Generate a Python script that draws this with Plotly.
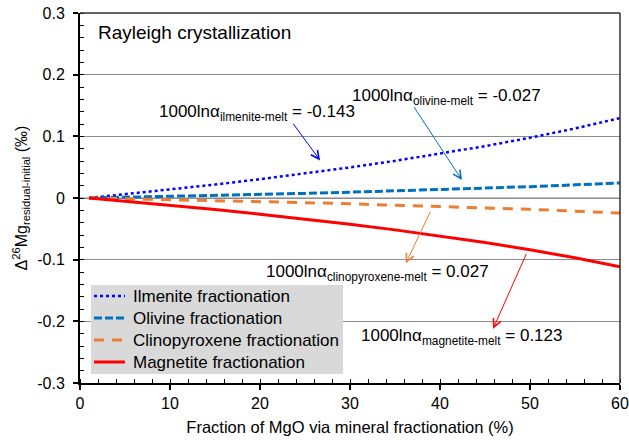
import plotly.graph_objects as go

# Fraction of MgO removed by mineral fractionation (%)
frac_mgo = [1, 5, 10, 15, 20, 25, 30, 35, 40, 45, 50, 55, 60]

# Δ26Mg(residual - initial) in per mil for each fractionating mineral
ilmenite = [0, 0.0059, 0.0136, 0.0218, 0.0305, 0.0397, 0.0496, 0.0602, 0.0716, 0.0841, 0.0977, 0.1128, 0.1296]
olivine = [0, 0.0011, 0.0026, 0.0041, 0.0058, 0.0075, 0.0094, 0.0114, 0.0135, 0.0159, 0.0184, 0.0213, 0.0245]
clinopyroxene = [0, -0.0011, -0.0026, -0.0041, -0.0058, -0.0075, -0.0094, -0.0114, -0.0135, -0.0159, -0.0184, -0.0213, -0.0245]
magnetite = [0, -0.0051, -0.0117, -0.0187, -0.0262, -0.0341, -0.0426, -0.0517, -0.0616, -0.0723, -0.0840, -0.0970, -0.1115]

series_names = ["Ilmenite fractionation", "Olivine fractionation",
                "Clinopyroxene fractionation", "Magnetite fractionation"]

x_ticks = [0, 10, 20, 30, 40, 50, 60]
y_ticks = [-0.3, -0.2, -0.1, 0, 0.1, 0.2, 0.3]
y_tick_labels = ["-0.3", "-0.2", "-0.1", "0", "0.1", "0.2", "0.3"]

FONT = "Liberation Sans, Arial, sans-serif"

styles = [
    dict(color="#0000FF", width=2.5, dash="dot"),
    dict(color="#0070C0", width=3, dash="8px,3px"),
    dict(color="#ED7D31", width=3, dash="10px,8px"),
    dict(color="#FF0000", width=3),
]

fig = go.Figure()
for name, ys, st in zip(series_names, [ilmenite, olivine, clinopyroxene, magnetite], styles):
    fig.add_trace(go.Scatter(x=frac_mgo, y=ys, mode="lines", name=name, line=st, showlegend=False))

# zero reference line
fig.add_shape(type="line", xref="x", yref="y", x0=0, x1=60, y0=0, y1=0,
              line=dict(color="#C0C0C0", width=2), layer="below")
# top and right frame
fig.add_shape(type="line", xref="paper", yref="paper", x0=0, x1=1, y0=1, y1=1,
              line=dict(color="#303030", width=1.5))
fig.add_shape(type="line", xref="paper", yref="paper", x0=1, x1=1, y0=0, y1=1,
              line=dict(color="#303030", width=1.5))

# legend box (paper coordinates of the plot area: 540 x 370 px)
PW, PH = 540.0, 370.0
def px_x(p):
    return (p - 80) / PW
def px_y(p):
    return (383 - p) / PH

fig.add_shape(type="rect", xref="paper", yref="paper",
              x0=px_x(91), x1=px_x(343), y0=px_y(374), y1=px_y(285),
              fillcolor="#D9D9D9", line=dict(width=0), layer="above")
for i, (name, st) in enumerate(zip(series_names, styles)):
    yc = 296 + 22 * i
    fig.add_shape(type="line", xref="paper", yref="paper",
                  x0=px_x(94), x1=px_x(125), y0=px_y(yc), y1=px_y(yc), line=st, layer="above")
    fig.add_annotation(x=px_x(131), y=px_y(yc), xref="paper", yref="paper", text=name,
                       showarrow=False, xanchor="left", yanchor="middle",
                       font=dict(family=FONT, size=17, color="black"))

# fractionation factor labels with arrows pointing at their curves
labels = [
    dict(text="1000lnα<sub>ilmenite-melt</sub> = -0.143", tx=8.6, ty=0.138, head=(26.67, 0.061), tail=(23.56, 0.123), color="#0000FF"),
    dict(text="1000lnα<sub>olivine-melt</sub> = -0.027", tx=30.0, ty=0.164, head=(42.44, 0.029), tail=(37.0, 0.150), color="#0070C0"),
    dict(text="1000lnα<sub>clinopyroxene-melt</sub> = 0.027", tx=20.4, ty=-0.121, head=(36.2, -0.106), tail=(39.0, -0.020), color="#ED7D31"),
    dict(text="1000lnα<sub>magnetite-melt</sub> = 0.123", tx=31.0, ty=-0.225, head=(45.9, -0.212), tail=(49.67, -0.088), color="#FF0000"),
]
for lb in labels:
    fig.add_annotation(x=lb["tx"], y=lb["ty"], xref="x", yref="y", text=lb["text"], showarrow=False,
                       xanchor="left", yanchor="middle", font=dict(family=FONT, size=17, color="black"))
    fig.add_annotation(x=lb["head"][0], y=lb["head"][1], ax=lb["tail"][0], ay=lb["tail"][1],
                       xref="x", yref="y", axref="x", ayref="y", text="", showarrow=True,
                       arrowhead=5, arrowsize=1.6, arrowwidth=1, arrowcolor=lb["color"])

fig.add_annotation(x=0.03, y=0.946, xref="paper", yref="paper", text="Rayleigh crystallization",
                   showarrow=False, xanchor="left", yanchor="middle",
                   font=dict(family=FONT, size=19, color="black"))

fig.update_layout(
    width=629, height=440,
    margin=dict(l=80, r=9, t=13, b=57, autoexpand=False),
    paper_bgcolor="white", plot_bgcolor="white",
    font=dict(family=FONT, size=16, color="black"),
    showlegend=False,
    xaxis=dict(range=[0, 60], tickvals=x_ticks, ticks="outside", ticklen=5, tickwidth=1.5,
               tickcolor="black", showline=True, linecolor="black", linewidth=2,
               showgrid=False, zeroline=False,
               minor=dict(dtick=2, ticks="inside", ticklen=4, tickcolor="black", tickwidth=1),
               tickfont=dict(family=FONT, size=16),
               title=dict(text="Fraction of MgO via mineral fractionation (%)", standoff=10,
                          font=dict(family=FONT, size=16.5))),
    yaxis=dict(range=[-0.3, 0.3], tickvals=y_ticks, ticktext=y_tick_labels, ticks="outside",
               ticklen=5, tickwidth=1.5, tickcolor="black", showline=True, linecolor="black",
               linewidth=2, showgrid=True, gridcolor="#8C8C8C", gridwidth=1, zeroline=False,
               ticklabelstandoff=5,
               minor=dict(dtick=0.02, ticks="inside", ticklen=4, tickcolor="black", tickwidth=1,
                          showgrid=False),
               tickfont=dict(family=FONT, size=16),
               title=dict(text="Δ<sup>26</sup>Mg<sub>residual-initial</sub> (‰)", standoff=6,
                          font=dict(family=FONT, size=16))),
)

fig.write_html("out.html")
